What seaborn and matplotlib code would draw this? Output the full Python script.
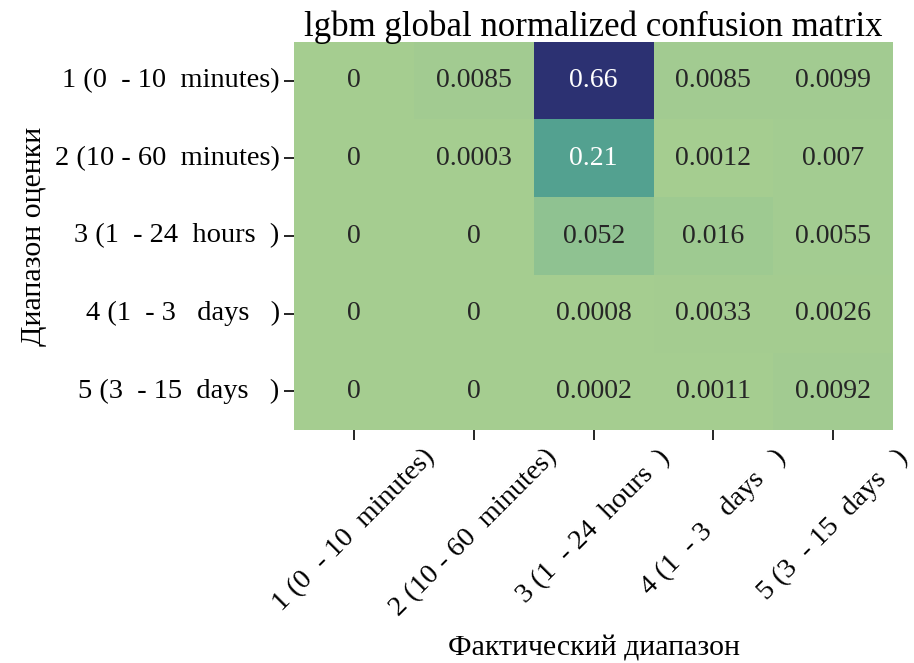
import matplotlib
import numpy as np
import pandas as pd
import seaborn as sns

matplotlib.use("Agg")
import matplotlib.pyplot as plt

sns.set_theme(style="white")
plt.rcParams.update({
    "font.family": ["Liberation Serif", "DejaVu Serif"],
    "axes.titlesize": 25,
    "axes.labelsize": 21.5,
    "xtick.labelsize": 20.5,
    "ytick.labelsize": 20.5,
    "text.color": "black",
    "axes.labelcolor": "black",
    "xtick.color": "black",
    "ytick.color": "black",
})

class_labels = [
    "1 (0  - 10  minutes)",
    "2 (10 - 60  minutes)",
    "3 (1  - 24  hours  )",
    "4 (1  - 3   days   )",
    "5 (3  - 15  days   )",
]

row_1 = [0, 0.0085, 0.66, 0.0085, 0.0099]
row_2 = [0, 0.0003, 0.21, 0.0012, 0.007]
row_3 = [0, 0, 0.052, 0.016, 0.0055]
row_4 = [0, 0, 0.0008, 0.0033, 0.0026]
row_5 = [0, 0, 0.0002, 0.0011, 0.0092]

matrix = pd.DataFrame(
    np.array([row_1, row_2, row_3, row_4, row_5]),
    index=class_labels,
    columns=class_labels,
)

fig, ax = plt.subplots(figsize=(9.14, 6.63), dpi=100)
sns.heatmap(matrix, annot=True, fmt=".2g", cmap="crest", cbar=False,
            annot_kws={"size": 20}, ax=ax)
ax.set_title("lgbm global normalized confusion matrix", pad=4)
ax.set_xlabel("Фактический диапазон", labelpad=10)
ax.set_ylabel("Диапазон оценки", labelpad=6)
ax.tick_params(axis="both", length=7, width=1.2, color="black", bottom=True, left=True)
plt.setp(ax.get_xticklabels(), rotation=45)
plt.setp(ax.get_yticklabels(), rotation=0)
plt.subplots_adjust(left=0.322, right=0.977, top=0.937, bottom=0.351)
plt.savefig("out.png", dpi=100)
